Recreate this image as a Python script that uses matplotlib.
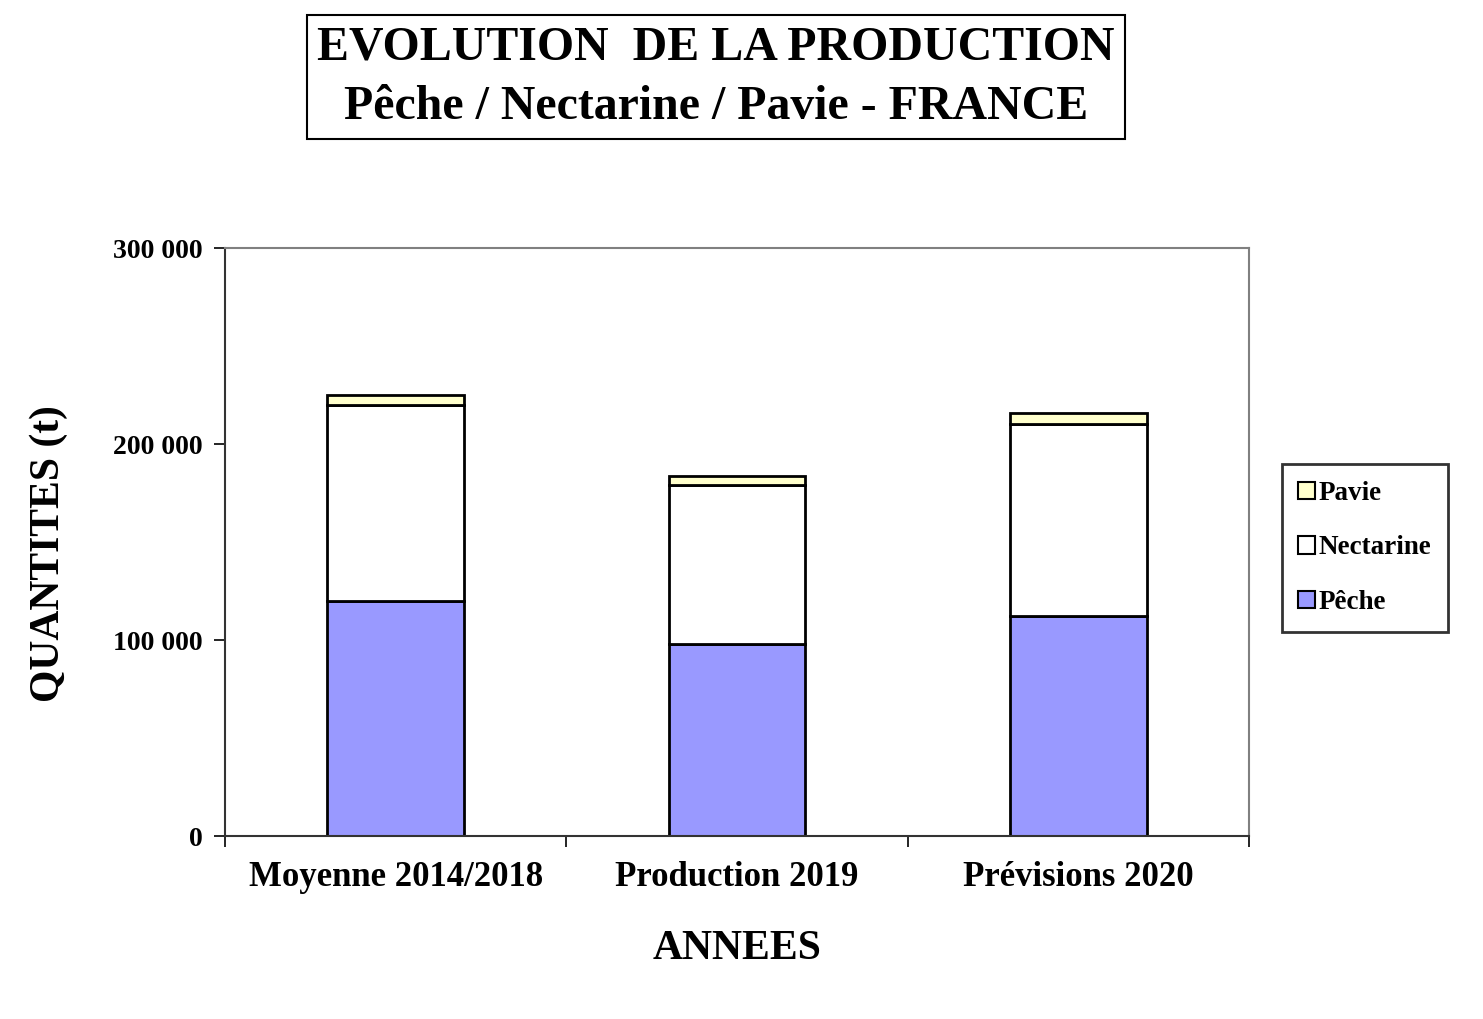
import matplotlib
matplotlib.use("Agg")
import matplotlib.pyplot as plt
from matplotlib.ticker import FuncFormatter
from matplotlib.patches import Patch

categories = ["Moyenne 2014/2018", "Production 2019", "Prévisions 2020"]
peche = [120000, 98000, 112000]
nectarine = [100000, 81000, 98000]
pavie = [5000, 4500, 6000]
series_names = ["Pêche", "Nectarine", "Pavie"]
colors = ["#9999FF", "#FFFFFF", "#FFFFCC"]
yticks = [0, 100000, 200000, 300000]

plt.rcParams['font.family'] = ['Liberation Serif', 'DejaVu Serif']
plt.rcParams['font.weight'] = 'bold'

fig = plt.figure(figsize=(14.83, 10.19), dpi=100)
ax = fig.add_axes([225/1483, 1-836/1019, (1249-225)/1483, (836-248)/1019])

x = list(range(len(categories)))
w = 0.4
ax.bar(x, peche, w, color=colors[0], edgecolor="black", linewidth=2, label=series_names[0])
ax.bar(x, nectarine, w, bottom=peche, color=colors[1], edgecolor="black", linewidth=2, label=series_names[1])
bottom2 = [p + n for p, n in zip(peche, nectarine)]
ax.bar(x, pavie, w, bottom=bottom2, color=colors[2], edgecolor="black", linewidth=2, label=series_names[2])

ax.set_xlim(-0.5, len(categories) - 0.5)
ax.set_ylim(0, 300000)
ax.set_yticks(yticks)
ax.yaxis.set_major_formatter(FuncFormatter(lambda v, p: f"{int(v):,}".replace(",", " ")))
ax.set_xticks([i - 0.5 for i in range(len(categories) + 1)])
ax.set_xticklabels([])
ax.set_xticks(x, minor=True)
ax.set_xticklabels(categories, minor=True, fontsize=25, fontweight='bold')
ax.tick_params(axis='x', which='minor', length=0, pad=18)
ax.tick_params(axis='x', which='major', length=8, width=1.2, direction='out')
ax.tick_params(axis='y', length=8, width=1.2, direction='out', labelsize=20, pad=8)
for lab in ax.get_yticklabels():
    lab.set_fontweight('bold')

for s in ['top', 'right']:
    ax.spines[s].set_color('#808080')
    ax.spines[s].set_linewidth(1.5)
for s in ['left', 'bottom']:
    ax.spines[s].set_color('#333333')
    ax.spines[s].set_linewidth(1.5)

ax.set_ylabel("QUANTITES (t)", fontsize=30, fontweight='bold')
ax.yaxis.set_label_coords(-157/1024, 0.5 - 12/588)
ax.set_xlabel("ANNEES", fontsize=30, fontweight='bold', labelpad=26)

fig.text(716/1483, 1-77/1019, "EVOLUTION  DE LA PRODUCTION\nPêche / Nectarine / Pavie - FRANCE",
         ha='center', va='center', fontsize=34.5, fontweight='bold', linespacing=1.45,
         bbox=dict(boxstyle='square,pad=0.22', facecolor='white', edgecolor='black', linewidth=1.5))

handles = [Patch(facecolor=colors[2], edgecolor='black', linewidth=1.5, label=series_names[2]),
           Patch(facecolor=colors[1], edgecolor='black', linewidth=1.5, label=series_names[1]),
           Patch(facecolor=colors[0], edgecolor='black', linewidth=1.5, label=series_names[0])]
leg = fig.legend(handles=handles, loc='center left', bbox_to_anchor=(1282/1483, 1-548/1019),
                 frameon=True, fancybox=False, edgecolor='black', fontsize=19.5,
                 handlelength=0.6, handleheight=0.6, handletextpad=0.15, labelspacing=1.1,
                 borderpad=0.6, borderaxespad=0)
leg.get_frame().set_linewidth(2)
for t in leg.get_texts():
    t.set_fontweight('bold')

fig.savefig("out.png", dpi=100, facecolor='white')
